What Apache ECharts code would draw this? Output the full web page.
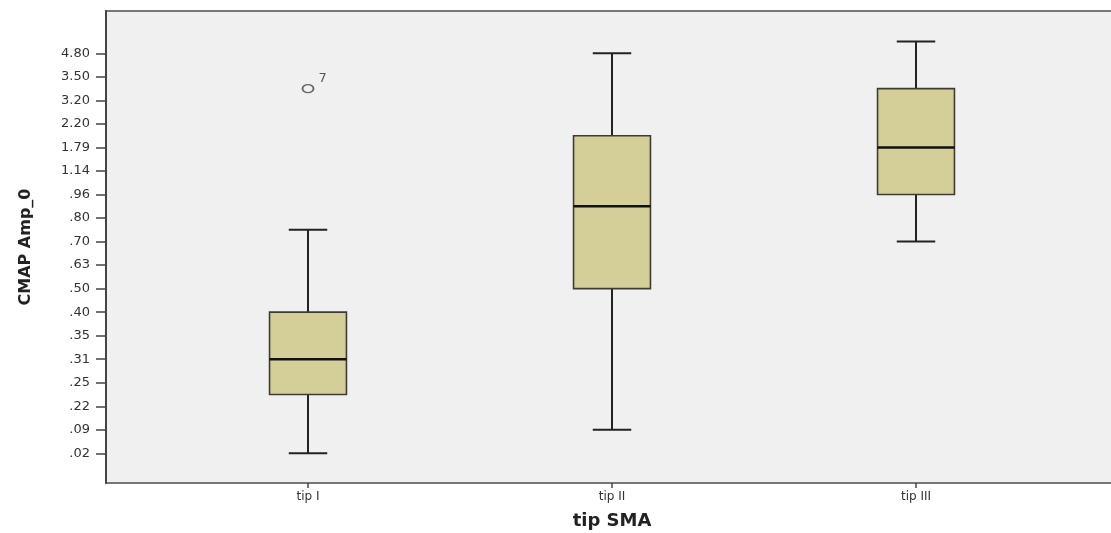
<!DOCTYPE html>
<html>
<head>
<meta charset="utf-8">
<script src="https://cdn.jsdelivr.net/npm/echarts@6/dist/echarts.min.js"></script>
<style>
html,body{margin:0;padding:0;background:#fff;}
#chart{width:1111px;height:533px;}
</style>
</head>
<body>
<div id="chart"></div>
<script>
// Categories on the x axis
const categories = ['tip I', 'tip II', 'tip III'];
// Ordinal y-axis tick labels (evenly spaced, bottom to top)
const yTickLabels = ['.02', '.09', '.22', '.25', '.31', '.35', '.40', '.50', '.63', '.70', '.80', '.96', '1.14', '1.79', '2.20', '3.20', '3.50', '4.80'];
// Box statistics, expressed as positions on the ordinal y axis (tick index)
const whiskerLow  = [0,   1,    9];
const quartile1   = [2.5, 7,    11];
const medians     = [4,   10.5, 13];
const quartile3   = [6,   13.5, 15.5];
const whiskerHigh = [9.5, 17,   17.5];
// Outliers
const outlierCats   = [0];
const outlierValues = [15.5];
const outlierLabels = ['7'];

const boxData = categories.map((c, i) => [i, whiskerLow[i], quartile1[i], medians[i], quartile3[i], whiskerHigh[i]]);
const outlierData = outlierCats.map((c, i) => [c, outlierValues[i]]);
const tickIdx = yTickLabels.map((t, i) => i);

const chart = echarts.init(document.getElementById('chart'), null, {renderer: 'canvas'});
const font = 'DejaVu Sans';
chart.setOption({
  animation: false,
  backgroundColor: '#ffffff',
  grid: [
    {left: 106, right: -4, top: 11, bottom: 50, show: true, backgroundColor: '#f0f0f0', borderColor: '#777', borderWidth: 2, outerBoundsMode: 'none', containLabel: false},
    {left: 156, right: 43, top: 11, bottom: 50, outerBoundsMode: 'none', containLabel: false}
  ],
  xAxis: [
    {gridIndex: 0, type: 'value', show: false},
    {
      gridIndex: 1, type: 'category', data: categories, boundaryGap: true, position: 'bottom',
      axisLine: {show: false, onZero: false},
      axisTick: {show: true, alignWithLabel: true, length: 5, lineStyle: {color: '#444', width: 1.5}},
      axisLabel: {margin: 8, color: '#333', fontSize: 12, fontFamily: font},
      splitLine: {show: false},
      name: 'tip SMA', nameLocation: 'middle', nameGap: 29,
      nameTextStyle: {fontSize: 18, fontWeight: 'bold', color: '#222', fontFamily: font}
    }
  ],
  yAxis: [
    {gridIndex: 0, type: 'value', show: false},
    {
      gridIndex: 1, type: 'value', min: -1.262, max: 18.8, offset: 50,
      axisLine: {show: true, onZero: false, lineStyle: {color: '#444', width: 2}},
      axisTick: {show: true, length: 10, customValues: tickIdx, lineStyle: {color: '#444', width: 1.5}},
      axisLabel: {margin: 16, color: '#333', fontSize: 13, fontFamily: font, customValues: tickIdx,
        formatter: v => yTickLabels[Math.round(v)]},
      splitLine: {show: false},
      name: 'CMAP Amp_0', nameLocation: 'middle', nameGap: 72, nameRotate: 90,
      nameTextStyle: {fontSize: 16, fontWeight: 'bold', color: '#222', fontFamily: font}
    }
  ],
  series: [
    {
      type: 'custom',
      xAxisIndex: 1, yAxisIndex: 1,
      data: boxData,
      encode: {x: 0, y: [1, 2, 3, 4, 5]},
      renderItem: function (params, api) {
        const x = api.value(0);
        const lo = api.coord([x, api.value(1)]);
        const q1 = api.coord([x, api.value(2)]);
        const md = api.coord([x, api.value(3)]);
        const q3 = api.coord([x, api.value(4)]);
        const hi = api.coord([x, api.value(5)]);
        const band = api.size([1, 0])[0];
        const bw = band * 0.253;
        const cw = bw / 2;
        const cx = lo[0];
        const wStyle = {stroke: '#222', lineWidth: 2};
        return {
          type: 'group',
          children: [
            {type: 'line', shape: {x1: cx, y1: lo[1], x2: cx, y2: q1[1]}, style: wStyle},
            {type: 'line', shape: {x1: cx, y1: q3[1], x2: cx, y2: hi[1]}, style: wStyle},
            {type: 'line', shape: {x1: cx - cw / 2, y1: lo[1], x2: cx + cw / 2, y2: lo[1]}, style: wStyle},
            {type: 'line', shape: {x1: cx - cw / 2, y1: hi[1], x2: cx + cw / 2, y2: hi[1]}, style: wStyle},
            {type: 'rect', shape: {x: cx - bw / 2, y: q3[1], width: bw, height: q1[1] - q3[1]},
              style: {fill: '#d4cf98', stroke: '#3d3d33', lineWidth: 1.6}},
            {type: 'line', shape: {x1: cx - bw / 2, y1: md[1], x2: cx + bw / 2, y2: md[1]},
              style: {stroke: '#111', lineWidth: 2.6}}
          ]
        };
      },
      z: 3
    },
    {
      type: 'scatter',
      xAxisIndex: 1, yAxisIndex: 1,
      data: outlierData,
      symbol: 'circle',
      symbolSize: [11, 8],
      itemStyle: {color: 'rgba(0,0,0,0)', borderColor: '#444', borderWidth: 1.6},
      label: {
        show: true, position: 'right', distance: 4, offset: [0, -10],
        formatter: p => outlierLabels[p.dataIndex],
        color: '#333', fontSize: 13, fontFamily: font
      },
      z: 4
    }
  ]
});
</script>
</body>
</html>
